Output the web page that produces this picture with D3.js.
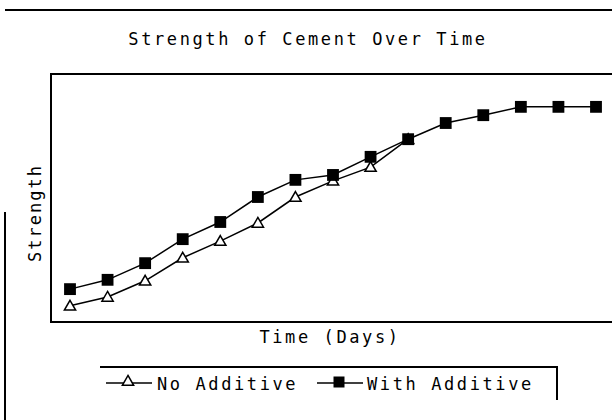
<!DOCTYPE html>
<meta charset="utf-8">
<style>
  body { margin: 0; background: #fff; }
  svg text { font-family: "DejaVu Sans Mono", monospace; fill: #000; }
  .frame { stroke: #000; stroke-width: 2px; fill: none; shape-rendering: crispEdges; }
  .line { stroke: #000; stroke-width: 1.5px; fill: none; }
</style>
<body>
<div id="chart"></div>
<script src="https://d3js.org/d3.v7.min.js"></script>
<script>
  // data
  var days = [1, 2, 3, 4, 5, 6, 7, 8, 9, 10, 11, 12, 13, 14, 15];
  var withAdditive = [6.3, 8.2, 11.6, 16.5, 20.0, 25.1, 28.6, 29.6, 33.3, 36.9, 40.2, 41.8, 43.5, 43.5, 43.5];
  var noAdditive = [2.9, 4.7, 8.0, 12.7, 16.1, 19.8, 25.1, 28.4, 31.2, 36.9];
  var seriesNames = ["No Additive", "With Additive"];

  var width = 612, height = 420;
  var plot = { left: 51, right: 612, top: 74, bottom: 322 };

  var svg = d3.select("#chart").append("svg")
    .attr("width", width)
    .attr("height", height);

  var x = d3.scaleLinear().domain([1, 15]).range([70, 596]);
  var y = d3.scaleLinear().domain([0, 50]).range([320, 75]);

  // outer lines
  svg.append("line").attr("class", "frame")
    .attr("x1", 5).attr("x2", 612).attr("y1", 10).attr("y2", 10);
  svg.append("line").attr("class", "frame")
    .attr("x1", 5).attr("x2", 5).attr("y1", 212).attr("y2", 420);

  // plot frame (top, left, bottom)
  svg.append("path").attr("class", "frame")
    .attr("d", "M" + plot.right + "," + plot.top + "H" + plot.left + "V" + plot.bottom + "H" + plot.right);

  // title + axis labels
  var ls = "2.6px";
  svg.append("text")
    .attr("x", 308).attr("y", 45)
    .attr("text-anchor", "middle")
    .style("font-size", "17px").style("letter-spacing", ls)
    .text("Strength of Cement Over Time");

  svg.append("text")
    .attr("transform", "translate(41,213) rotate(-90)")
    .attr("text-anchor", "middle")
    .style("font-size", "17px").style("letter-spacing", "2px")
    .text("Strength");

  svg.append("text")
    .attr("x", 330).attr("y", 343)
    .attr("text-anchor", "middle")
    .style("font-size", "17px").style("letter-spacing", ls)
    .text("Time (Days)");

  var line = d3.line()
    .x(function(d) { return x(d[0]); })
    .y(function(d) { return y(d[1]); });

  var noData = noAdditive.map(function(v, i) { return [days[i], v]; });
  var withData = withAdditive.map(function(v, i) { return [days[i], v]; });

  var tri = d3.symbol().type(d3.symbolTriangle).size(55);
  var sq = d3.symbol().type(d3.symbolSquare).size(140);

  svg.append("path").datum(noData).attr("class", "line").attr("d", line);
  svg.selectAll("path.tri").data(noData).enter().append("path")
    .attr("class", "tri")
    .attr("d", tri)
    .attr("transform", function(d) { return "translate(" + x(d[0]) + "," + (y(d[1]) + 1) + ")"; })
    .style("fill", "#fff").style("stroke", "#000").style("stroke-width", 1.5);

  svg.append("path").datum(withData).attr("class", "line").attr("d", line);
  svg.selectAll("path.sq").data(withData).enter().append("path")
    .attr("class", "sq")
    .attr("d", sq)
    .attr("transform", function(d) { return "translate(" + x(d[0]) + "," + y(d[1]) + ")"; })
    .style("fill", "#000");

  // legend
  var legend = svg.append("g");
  legend.append("path").attr("class", "frame")
    .attr("d", "M100,367H557V400");

  var items = [
    { name: seriesNames[0], x0: 106, symbol: tri, fill: "#fff", tx: 157 },
    { name: seriesNames[1], x0: 317, symbol: d3.symbol().type(d3.symbolSquare).size(90), fill: "#000", tx: 367 }
  ];
  items.forEach(function(it) {
    legend.append("line").attr("class", "line")
      .attr("x1", it.x0).attr("x2", it.x0 + 46).attr("y1", 383).attr("y2", 383);
    legend.append("path")
      .attr("d", it.symbol)
      .attr("transform", "translate(" + (it.x0 + 22) + ",382)")
      .style("fill", it.fill).style("stroke", "#000").style("stroke-width", 1.5);
    legend.append("text")
      .attr("x", it.tx).attr("y", 390)
      .style("font-size", "17px").style("letter-spacing", ls)
      .text(it.name);
  });
</script>
</body>
